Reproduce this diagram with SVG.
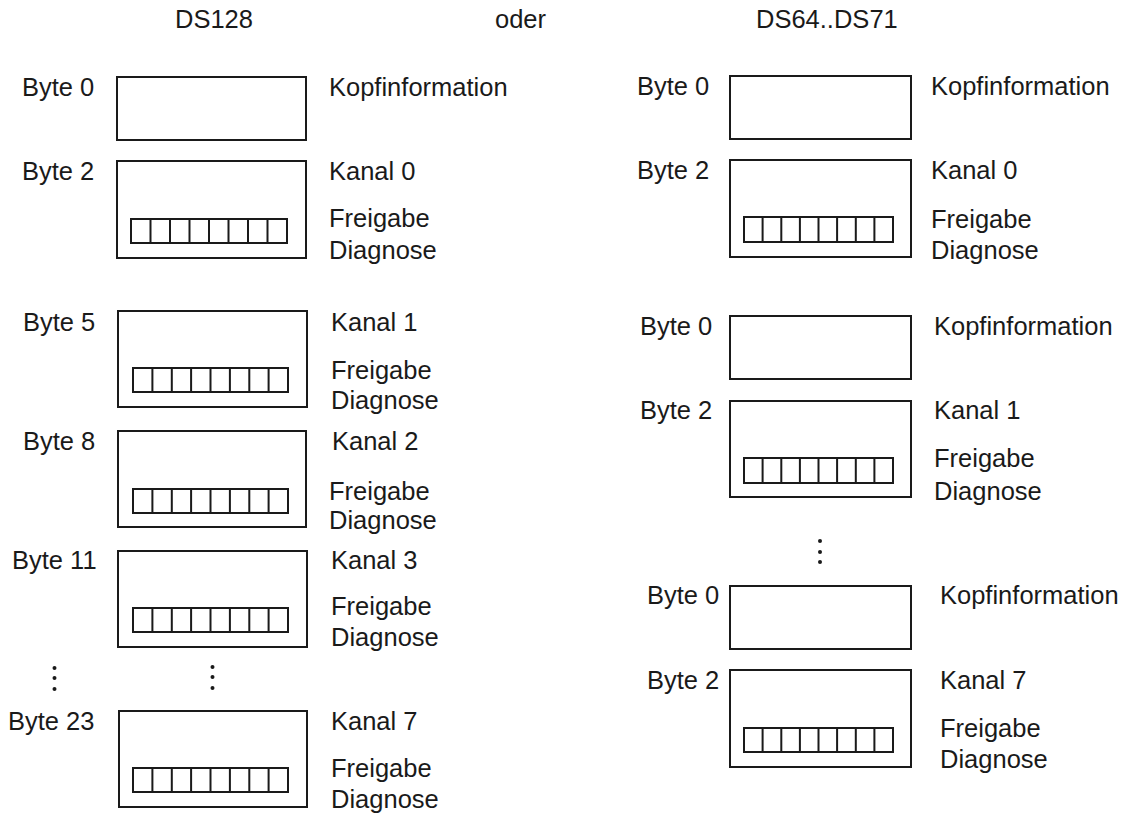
<svg xmlns="http://www.w3.org/2000/svg" width="1148" height="815" viewBox="0 0 1148 815">
<style>
text{font-family:"Liberation Sans",Arial,sans-serif;font-size:25.5px;fill:#1a1a1a}
.box{fill:none;stroke:#1a1a1a;stroke-width:2}
.bits{fill:none;stroke:#1a1a1a;stroke-width:2}
.dot{fill:#1a1a1a}
</style>
<rect width="1148" height="815" fill="#ffffff"/>
<g id="headers">
<text x="175" y="28">DS128</text>
<text x="495" y="28">oder</text>
<text x="756" y="28">DS64..DS71</text>
</g>
<g id="L0">
<rect class="box" x="117" y="77" width="189" height="63"/>
<text x="22" y="96">Byte 0</text>
<text x="329" y="96">Kopfinformation</text>
</g>
<g id="L1">
<rect class="box" x="117" y="161" width="189" height="97"/>
<path class="bits" d="M131 219h156v24h-156z M150.5 219v24 M170 219v24 M189.5 219v24 M209 219v24 M228.5 219v24 M248 219v24 M267.5 219v24"/>
<text x="22" y="180">Byte 2</text>
<text x="329" y="180">Kanal 0</text>
<text x="329" y="227">Freigabe</text>
<text x="329" y="259">Diagnose</text>
</g>
<g id="L2">
<rect class="box" x="118" y="311" width="189" height="96"/>
<path class="bits" d="M133 368h155v24h-155z M152.4 368v24 M171.8 368v24 M191.1 368v24 M210.5 368v24 M229.9 368v24 M249.3 368v24 M268.6 368v24"/>
<text x="23" y="331">Byte 5</text>
<text x="331" y="331">Kanal 1</text>
<text x="331" y="379">Freigabe</text>
<text x="331" y="409">Diagnose</text>
</g>
<g id="L3">
<rect class="box" x="118" y="431" width="188" height="96"/>
<path class="bits" d="M133 489h155v24h-155z M152.4 489v24 M171.8 489v24 M191.1 489v24 M210.5 489v24 M229.9 489v24 M249.3 489v24 M268.6 489v24"/>
<text x="23" y="450">Byte 8</text>
<text x="332" y="450">Kanal 2</text>
<text x="329" y="500">Freigabe</text>
<text x="329" y="529">Diagnose</text>
</g>
<g id="L4">
<rect class="box" x="118" y="551" width="189" height="96"/>
<path class="bits" d="M133 608h155v24h-155z M152.4 608v24 M171.8 608v24 M191.1 608v24 M210.5 608v24 M229.9 608v24 M249.3 608v24 M268.6 608v24"/>
<text x="12" y="569">Byte 11</text>
<text x="331" y="569">Kanal 3</text>
<text x="331" y="615">Freigabe</text>
<text x="331" y="646">Diagnose</text>
</g>
<g id="L-dots">
<circle class="dot" cx="54.5" cy="668" r="2"/>
<circle class="dot" cx="54.5" cy="678" r="2"/>
<circle class="dot" cx="54.5" cy="689" r="2"/>
<circle class="dot" cx="212.5" cy="667" r="2"/>
<circle class="dot" cx="212.5" cy="677" r="2"/>
<circle class="dot" cx="212.5" cy="688" r="2"/>
</g>
<g id="L5">
<rect class="box" x="119" y="711" width="188" height="96"/>
<path class="bits" d="M133 768h155v24h-155z M152.4 768v24 M171.8 768v24 M191.1 768v24 M210.5 768v24 M229.9 768v24 M249.3 768v24 M268.6 768v24"/>
<text x="8" y="730">Byte 23</text>
<text x="331" y="730">Kanal 7</text>
<text x="331" y="777">Freigabe</text>
<text x="331" y="808">Diagnose</text>
</g>
<g id="R0">
<rect class="box" x="730" y="76" width="181" height="63"/>
<text x="637" y="95">Byte 0</text>
<text x="931" y="95">Kopfinformation</text>
</g>
<g id="R1">
<rect class="box" x="730" y="160" width="181" height="97"/>
<path class="bits" d="M744 217h149v25h-149z M762.6 217v25 M781.3 217v25 M799.9 217v25 M818.5 217v25 M837.1 217v25 M855.8 217v25 M874.4 217v25"/>
<text x="637" y="179">Byte 2</text>
<text x="931" y="179">Kanal 0</text>
<text x="931" y="228">Freigabe</text>
<text x="931" y="259">Diagnose</text>
</g>
<g id="R2">
<rect class="box" x="730" y="316" width="181" height="63"/>
<text x="640" y="335">Byte 0</text>
<text x="934" y="335">Kopfinformation</text>
</g>
<g id="R3">
<rect class="box" x="730" y="401" width="181" height="96"/>
<path class="bits" d="M744 458h149v25h-149z M762.6 458v25 M781.3 458v25 M799.9 458v25 M818.5 458v25 M837.1 458v25 M855.8 458v25 M874.4 458v25"/>
<text x="640" y="419">Byte 2</text>
<text x="934" y="419">Kanal 1</text>
<text x="934" y="467">Freigabe</text>
<text x="934" y="500">Diagnose</text>
</g>
<g id="R-dots">
<circle class="dot" cx="820" cy="541" r="2"/>
<circle class="dot" cx="820" cy="552" r="2"/>
<circle class="dot" cx="820" cy="562" r="2"/>
</g>
<g id="R4">
<rect class="box" x="730" y="586" width="181" height="63"/>
<text x="647" y="604">Byte 0</text>
<text x="940" y="604">Kopfinformation</text>
</g>
<g id="R5">
<rect class="box" x="730" y="670" width="181" height="97"/>
<path class="bits" d="M744 728h149v24h-149z M762.6 728v24 M781.3 728v24 M799.9 728v24 M818.5 728v24 M837.1 728v24 M855.8 728v24 M874.4 728v24"/>
<text x="647" y="689">Byte 2</text>
<text x="940" y="689">Kanal 7</text>
<text x="940" y="737">Freigabe</text>
<text x="940" y="768">Diagnose</text>
</g>
<g id="connectors"></g>
</svg>
